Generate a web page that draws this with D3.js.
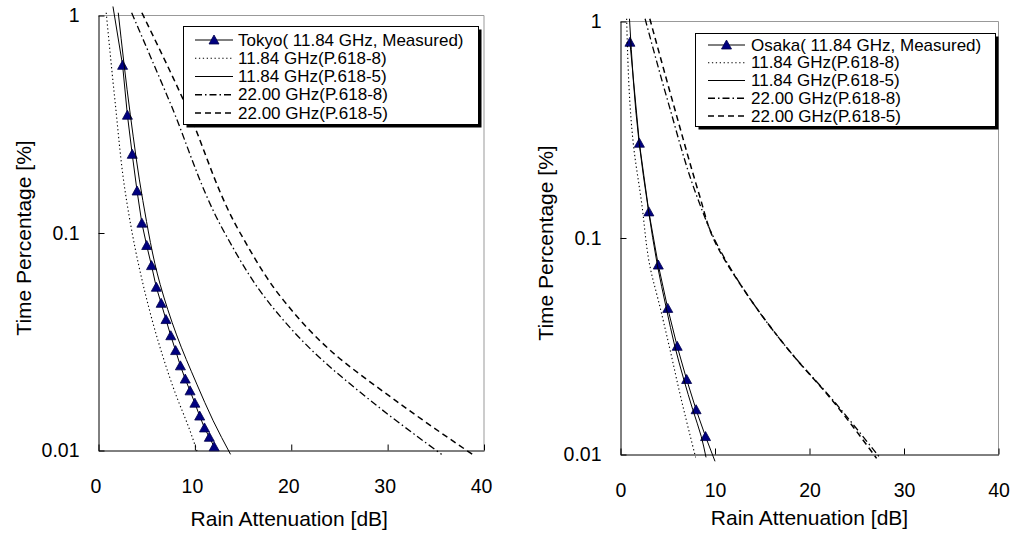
<!DOCTYPE html>
<html>
<head>
<meta charset="utf-8">
<script src="https://cdn.jsdelivr.net/npm/d3@7"></script>
<style>
  html, body { margin: 0; padding: 0; background: #fff; }
  svg { display: block; font-family: "Liberation Sans", Arial, sans-serif; }
</style>
</head>
<body>
<svg id="chart" width="1015" height="536"></svg>
<script>
// ---------- data ----------
const xTicks = [0, 10, 20, 30, 40];
const yTicks = [0.01, 0.1, 1];
const yTickLabels = ["0.01", "0.1", "1"];
const xTitle = "Rain Attenuation [dB]";
const yTitle = "Time Percentage [%]";

const legendLabelsTokyo = ["Tokyo( 11.84 GHz, Measured)", "11.84 GHz(P.618-8)", "11.84 GHz(P.618-5)", "22.00 GHz(P.618-8)", "22.00 GHz(P.618-5)"];
const legendLabelsOsaka = ["Osaka( 11.84 GHz, Measured)", "11.84 GHz(P.618-8)", "11.84 GHz(P.618-5)", "22.00 GHz(P.618-8)", "22.00 GHz(P.618-5)"];

// Tokyo (left panel)
const tokyoMeasAtt = [1.5, 2.5, 3.0, 3.5, 4.0, 4.5, 5.0, 5.5, 6.0, 6.5, 7.0, 7.5, 8.0, 8.5, 9.0, 9.5, 10.0, 10.5, 11.0, 11.5, 12.0];
const tokyoMeasPct = [1.1, 0.59, 0.348, 0.23, 0.156, 0.111, 0.0876, 0.0708, 0.0563, 0.0475, 0.040, 0.0337, 0.0288, 0.0245, 0.0213, 0.0188, 0.0165, 0.0144, 0.0127, 0.0115, 0.0104];
const tokyo12_8Att = [0.8, 1.7, 2.75, 4.3, 6.0, 7.9, 9.5, 10.3];
const tokyo12_8Pct = [1.03, 0.41, 0.157, 0.067, 0.034, 0.0187, 0.0123, 0.0097];
const tokyo12_5Att = [2.05, 3.3, 4.6, 6.4, 8.1, 10.2, 11.9, 13.7];
const tokyo12_5Pct = [1.03, 0.35, 0.141, 0.058, 0.034, 0.0202, 0.0137, 0.0096];
const tokyo22_8Att = [3.44, 7.3, 13.1, 17.5, 22.1, 28.2, 35.6];
const tokyo22_8Pct = [1.03, 0.41, 0.1, 0.049, 0.029, 0.017, 0.0096];
const tokyo22_5Att = [4.5, 8.8, 14.7, 19.2, 24.0, 30.8, 38.8];
const tokyo22_5Pct = [1.03, 0.41, 0.1, 0.049, 0.029, 0.017, 0.0096];

// Osaka (right panel)
const osakaMeasAtt = [1, 2, 3, 4, 5, 6, 7, 8, 9, 10];
const osakaMeasPct = [0.802, 0.274, 0.132, 0.075, 0.0473, 0.0316, 0.0222, 0.0161, 0.0121, 0.0093];
const osaka12_8Att = [0.65, 1.35, 2.24, 3.12, 4.18, 5.24, 6.3, 7.95];
const osaka12_8Pct = [1.03, 0.274, 0.145, 0.0738, 0.048, 0.0305, 0.019, 0.0097];
const osaka12_5Att = [0.95, 1.95, 2.95, 3.9, 4.85, 5.75, 6.7, 7.65, 8.55, 9.05];
const osaka12_5Pct = [1.03, 0.28, 0.135, 0.075, 0.0473, 0.0316, 0.0222, 0.0161, 0.0121, 0.0097];
const osaka22_8Att = [2.6, 5.0, 8.1, 9.65, 13.5, 17.9, 22.5, 27.5];
const osaka22_8Pct = [1.03, 0.43, 0.155, 0.105, 0.054, 0.030, 0.0178, 0.0096];
const osaka22_5Att = [3.1, 5.5, 8.4, 9.6, 13.5, 17.9, 22.4, 27.1];
const osaka22_5Pct = [1.03, 0.43, 0.155, 0.105, 0.054, 0.030, 0.0178, 0.0096];

// ---------- drawing ----------
const svg = d3.select("#chart");
svg.append("rect").attr("width", 1015).attr("height", 536).attr("fill", "#fff");

const zip = (a, b) => a.map((v, i) => [v, b[i]]);

const styles = {
  meas:  { dash: null, width: 1, color: "#000" },
  m12_8: { dash: "1.3,2.6", width: 1.1, color: "#000" },
  m12_5: { dash: null, width: 1, color: "#000" },
  m22_8: { dash: "7,3,1.5,3", width: 1.3, color: "#000" },
  m22_5: { dash: "6,4", width: 1.5, color: "#000" }
};

function triangle(g, cx, cy) {
  g.append("path")
    .attr("d", `M${cx},${cy - 5}L${cx + 5},${cy + 4}L${cx - 5},${cy + 4}Z`)
    .attr("fill", "#000080").attr("stroke", "#00004a").attr("stroke-width", 0.8);
}

function panel(cfg) {
  const g = svg.append("g");
  const x = d3.scaleLinear().domain([0, 40]).range([cfg.left, cfg.right]);
  const y = d3.scaleLog().domain([0.01, 1]).range([cfg.bottom, cfg.top]);

  // plot area border (top/right gray)
  g.append("path")
    .attr("d", `M${cfg.left},${cfg.top}H${cfg.right}V${cfg.bottom}`)
    .attr("fill", "none").attr("stroke", "#999").attr("stroke-width", 1);

  // x axis
  const xa = g.append("g").attr("transform", `translate(0,${cfg.bottom})`)
    .call(d3.axisBottom(x).tickValues(xTicks).tickSizeInner(-6).tickSizeOuter(0).tickPadding(29));
  xa.select(".domain").attr("stroke", "#000");
  xa.selectAll(".tick line").attr("stroke", "#000");
  xa.selectAll(".tick text").attr("font-size", 19.5).attr("fill", "#000")
    .attr("font-family", "Liberation Sans, Arial, sans-serif").attr("dx", cfg.xLabelDx);

  // y axis
  const ya = g.append("g").attr("transform", `translate(${cfg.left},0)`)
    .call(d3.axisLeft(y).tickValues(yTicks).tickSizeInner(-6).tickSizeOuter(0).tickPadding(19)
      .tickFormat((d, i) => yTickLabels[i]));
  ya.select(".domain").attr("stroke", "#000");
  ya.selectAll(".tick line").attr("stroke", "#000");
  ya.selectAll(".tick text").attr("font-size", 19.5).attr("fill", "#000")
    .attr("font-family", "Liberation Sans, Arial, sans-serif");

  // titles
  g.append("text").attr("x", (cfg.left + cfg.right) / 2 + cfg.xTitleDx).attr("y", cfg.xTitleY)
    .attr("text-anchor", "middle").attr("font-size", 21).text(xTitle);
  g.append("text").attr("transform", `translate(${cfg.yTitleX},${cfg.yTitleY}) rotate(-90)`)
    .attr("text-anchor", "middle").attr("dominant-baseline", "central").attr("font-size", 21).text(yTitle);

  // curves
  const lineSmooth = d3.line().x(d => x(d[0])).y(d => y(d[1])).curve(d3.curveMonotoneY);
  const lineStraight = d3.line().x(d => x(d[0])).y(d => y(d[1]));
  const series = cfg.series;
  series.forEach(s => {
    const st = styles[s.style];
    const pts = zip(s.att, s.pct);
    g.append("path").attr("d", (s.style === "meas" ? lineStraight : lineSmooth)(pts))
      .attr("fill", "none").attr("stroke", st.color).attr("stroke-width", st.width)
      .attr("stroke-dasharray", st.dash);
    if (s.style === "meas") {
      pts.filter(p => p[1] <= 1 && p[1] >= 0.01).forEach(p => triangle(g, x(p[0]), y(p[1])));
    }
  });

  // legend
  const L = cfg.legend;
  g.append("rect").attr("x", L.x + 3).attr("y", L.y + 3).attr("width", L.w).attr("height", L.h).attr("fill", "#000");
  g.append("rect").attr("x", L.x).attr("y", L.y).attr("width", L.w).attr("height", L.h)
    .attr("fill", "#fff").attr("stroke", "#000").attr("stroke-width", 1);
  series.forEach((s, i) => {
    const st = styles[s.style];
    const ry = L.row0 + i * L.rowStep;
    g.append("line").attr("x1", L.lx1).attr("x2", L.lx2).attr("y1", ry).attr("y2", ry)
      .attr("stroke", st.color).attr("stroke-width", st.width).attr("stroke-dasharray", st.dash);
    if (s.style === "meas") triangle(g, (L.lx1 + L.lx2) / 2, ry);
    g.append("text").attr("x", L.tx).attr("y", ry).attr("dominant-baseline", "central")
      .attr("font-size", 17).text(cfg.labels[i]);
  });
}

panel({
  left: 98.5, right: 484, top: 15.5, bottom: 450.5,
  xLabelDx: -3, xTitleY: 526, xTitleDx: -2, yTitleX: 23, yTitleY: 238,
  labels: legendLabelsTokyo,
  legend: { x: 183.5, y: 26.5, w: 295, h: 98, row0: 40, rowStep: 18.25, lx1: 195, lx2: 233, tx: 238 },
  series: [
    { att: tokyoMeasAtt, pct: tokyoMeasPct, style: "meas" },
    { att: tokyo12_8Att, pct: tokyo12_8Pct, style: "m12_8" },
    { att: tokyo12_5Att, pct: tokyo12_5Pct, style: "m12_5" },
    { att: tokyo22_8Att, pct: tokyo22_8Pct, style: "m22_8" },
    { att: tokyo22_5Att, pct: tokyo22_5Pct, style: "m22_5" }
  ]
});

panel({
  left: 620.5, right: 998.5, top: 21.5, bottom: 454.5,
  xLabelDx: 0, xTitleY: 525, xTitleDx: 0, yTitleX: 545, yTitleY: 243,
  labels: legendLabelsOsaka,
  legend: { x: 695.5, y: 33.5, w: 300, h: 93, row0: 45, rowStep: 17.75, lx1: 708, lx2: 745, tx: 751 },
  series: [
    { att: osakaMeasAtt, pct: osakaMeasPct, style: "meas" },
    { att: osaka12_8Att, pct: osaka12_8Pct, style: "m12_8" },
    { att: osaka12_5Att, pct: osaka12_5Pct, style: "m12_5" },
    { att: osaka22_8Att, pct: osaka22_8Pct, style: "m22_8" },
    { att: osaka22_5Att, pct: osaka22_5Pct, style: "m22_5" }
  ]
});
</script>
</body>
</html>
